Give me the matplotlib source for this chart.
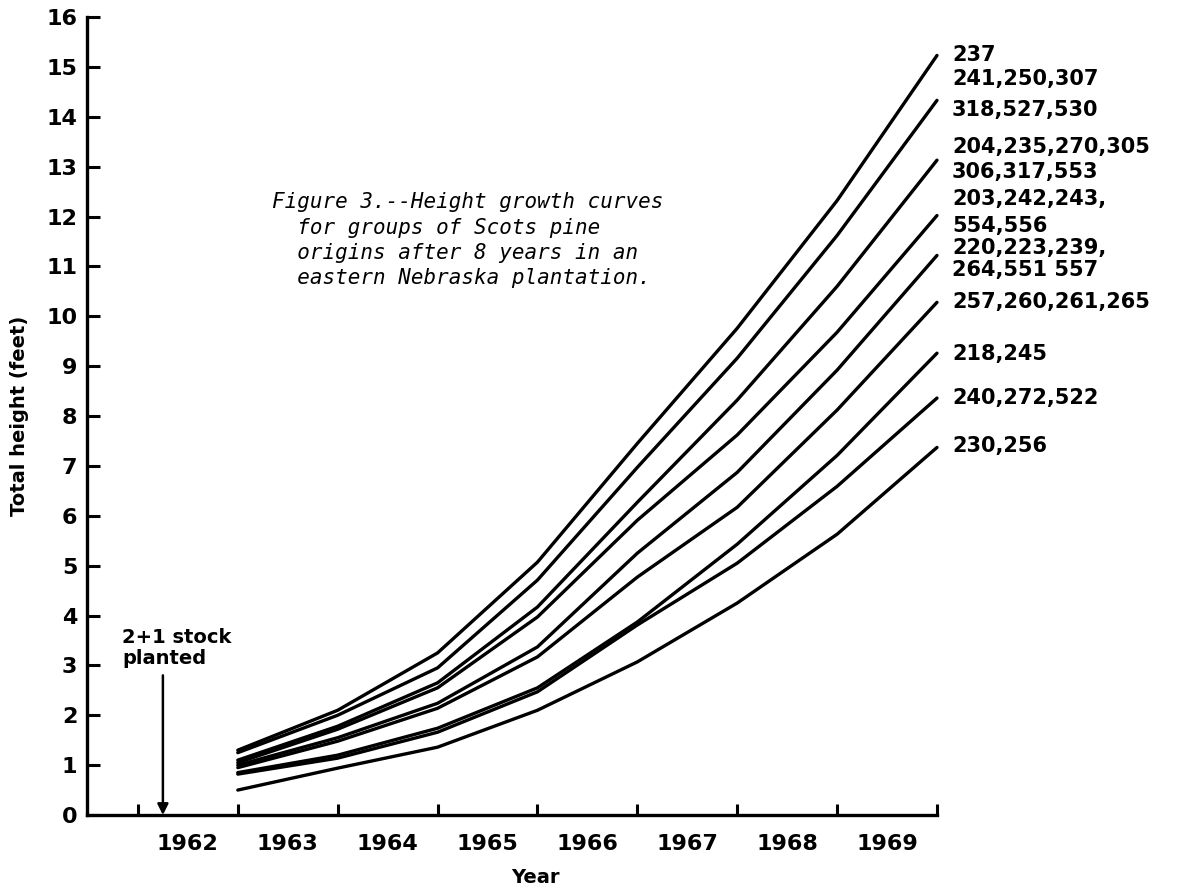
import matplotlib
matplotlib.use("Agg")
import matplotlib.pyplot as plt

# year boundaries at which heights were measured (end of each growing season)
years = [1963, 1964, 1965, 1966, 1967, 1968, 1969, 1970]

# total height (feet), one list per group curve, top to bottom
heights = [
    [1.30, 2.10, 3.25, 5.07, 7.45, 9.76, 12.32, 15.23],
    [1.25, 2.00, 2.95, 4.71, 6.97, 9.16, 11.62, 14.33],
    [1.10, 1.78, 2.65, 4.17, 6.27, 8.32, 10.60, 13.13],
    [1.05, 1.72, 2.55, 3.97, 5.91, 7.62, 9.68, 12.02],
    [1.00, 1.55, 2.24, 3.37, 5.25, 6.87, 8.92, 11.22],
    [0.95, 1.48, 2.14, 3.17, 4.77, 6.17, 8.12, 10.28],
    [0.85, 1.20, 1.74, 2.55, 3.87, 5.43, 7.21, 9.26],
    [0.82, 1.14, 1.66, 2.47, 3.81, 5.05, 6.59, 8.36],
    [0.50, 0.94, 1.36, 2.10, 3.07, 4.25, 5.63, 7.37],
]

# origin labels at the right end of the curves
origin_labels = ["237", "241,250,307", "318,527,530", "204,235,270,305",
                 "306,317,553", "203,242,243,", "554,556", "220,223,239,",
                 "264,551 557", "257,260,261,265", "218,245", "240,272,522",
                 "230,256"]
label_y = [15.23, 14.75, 14.13, 13.39, 12.89, 12.36, 11.82, 11.36,
           10.92, 10.28, 9.24, 8.36, 7.39]

year_labels = ["1962", "1963", "1964", "1965", "1966", "1967", "1968", "1969"]
year_boundaries = list(range(1962, 1971))
planted_x = 1962.25

caption = ["Figure 3.--Height growth curves",
           "  for groups of Scots pine",
           "  origins after 8 years in an",
           "  eastern Nebraska plantation."]

plt.rcParams['font.family'] = ['DejaVu Sans']

fig = plt.figure(figsize=(11.85, 8.88), dpi=100)
ax = fig.add_axes([0.0734, 0.0822, 0.7173, 0.8986])

for h in heights:
    ax.plot(years, h, color='black', lw=2.4, solid_joinstyle='round',
            solid_capstyle='round', clip_on=False)

for txt, y in zip(origin_labels, label_y):
    ax.text(1970.15, y, txt, fontsize=15, fontweight='bold', va='center',
            ha='left', clip_on=False)

ax.set_xlim(1961.49, 1970.0)
ax.set_ylim(0, 16)

for s in ['top', 'right']:
    ax.spines[s].set_visible(False)
for s in ['left', 'bottom']:
    ax.spines[s].set_linewidth(2.4)

ax.set_yticks(range(0, 17))
ax.set_yticklabels([str(i) for i in range(0, 17)])
ax.tick_params(axis='y', direction='in', length=9, width=2.2, pad=7,
               labelsize=16)
for lab in ax.get_yticklabels():
    lab.set_fontweight('bold')

ax.set_xticks(year_boundaries)
ax.set_xticklabels([''] * len(year_boundaries))
ax.set_xticks([y + 0.5 for y in year_boundaries[:-1]], minor=True)
ax.set_xticklabels(year_labels, minor=True, fontweight='bold')
ax.tick_params(axis='x', which='major', direction='in', length=8, width=2.2)
ax.tick_params(axis='x', which='minor', length=0, pad=14, labelsize=16)

ax.set_ylabel("Total height (feet)", fontsize=14, fontweight='bold',
              labelpad=12)
ax.set_xlabel("Year", fontsize=14, fontweight='bold')
ax.xaxis.set_label_coords(0.527, -0.0665)

# planting arrow
ax.annotate("", xy=(planted_x, 0.0), xytext=(planted_x, 2.8),
            arrowprops=dict(arrowstyle='-|>', color='black', lw=1.8,
                            mutation_scale=16, shrinkA=0, shrinkB=0))
ax.text(1961.84, 3.35, "2+1 stock\nplanted", fontsize=14, fontweight='bold',
        ha='left', va='center', linespacing=1.1)

cap_y = [202, 228, 253, 278]
for i, line in enumerate(caption):
    fig.text(272 / 1185, 1 - cap_y[i] / 888, line, fontsize=15,
             family='DejaVu Sans Mono', style='italic', va='center',
             ha='left')

fig.savefig("out.png", dpi=100)
